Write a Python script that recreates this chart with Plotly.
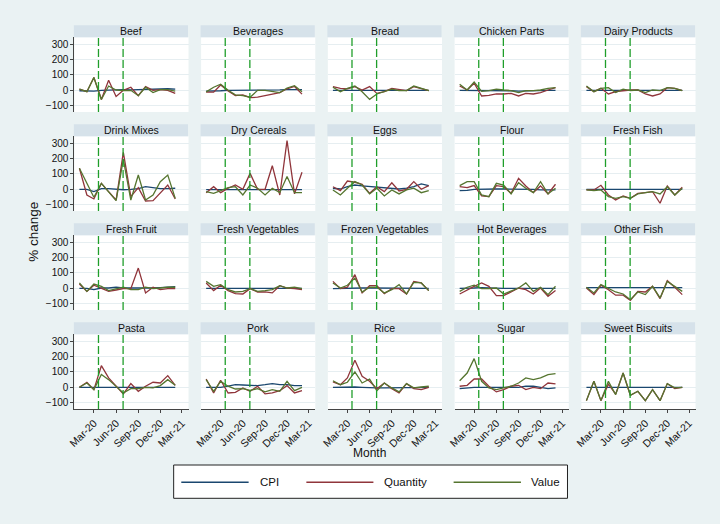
import plotly.graph_objects as go
import pandas as pd

# ---------------- data ----------------
months = pd.date_range("2020-01-01", periods=14, freq="MS")
categories = ["Beef", "Beverages", "Bread", "Chicken Parts", "Dairy Products",
              "Drink Mixes", "Dry Cereals", "Eggs", "Flour", "Fresh Fish",
              "Fresh Fruit", "Fresh Vegetables", "Frozen Vegetables", "Hot Beverages", "Other Fish",
              "Pasta", "Pork", "Rice", "Sugar", "Sweet Biscuits"]
x_tick_dates = ["2020-03-01", "2020-06-01", "2020-09-01", "2020-12-01", "2021-03-01"]
x_tick_labels = ["Mar-20", "Jun-20", "Sep-20", "Dec-20", "Mar-21"]
y_ticks = [-100, 0, 100, 200, 300]
event_dates = ["2020-03-20", "2020-06-30"]

beef_cpi = [-3, -5, -5, 0, 3, 5, 5, 3, 5, 5, 8, 10, 10, 8]
beef_qty = [7, -9, 83, -60, 65, -40, 0, 20, -35, 25, 0, 5, 0, -20]
beef_val = [7, -9, 83, -60, 28, 2, -2, 0, -35, 20, -15, 5, 5, -5]

beverages_cpi = [-5, -5, -3, 0, 0, 0, 0, 0, 2, 3, 3, 5, 5, 5]
beverages_qty = [-12, -12, 35, -5, -35, -30, -48, -45, -35, -25, -15, 10, 25, -25]
beverages_val = [-10, 20, 40, 0, -30, -35, -45, 0, 0, -5, -15, 15, 30, -10]

bread_cpi = [0, 0, 0, 0, 2, 3, 3, 2, 2, 0, 0, 0, 0, 0]
bread_qty = [24, 13, 9, 24, 2, 24, -20, -9, 13, 7, -2, 24, 13, -2]
bread_val = [20, -9, 13, 28, -9, -59, -24, -9, 7, -2, -2, 28, 13, -2]

chicken_cpi = [0, 0, 0, -2, -2, -2, -3, -3, -5, -3, -2, 0, 0, 0]
chicken_qty = [28, 2, 46, -37, -33, -24, -24, -20, -37, -20, -24, -15, 2, 17]
chicken_val = [39, 2, 54, -7, -2, 7, 2, -2, -15, -2, -2, 2, 13, 17]

dairy_cpi = [0, 0, 0, 0, 2, 2, 0, 0, -2, -2, 0, 0, 0, 0]
dairy_qty = [24, -9, 13, -24, -9, -2, 2, 2, -24, -37, -24, 17, 13, -2]
dairy_val = [28, -9, 13, 17, -15, 7, -2, 2, -15, 2, -2, 17, 13, -2]

drinkmix_cpi = [0, 0, -15, 5, 5, 0, -3, 0, 5, 17, 11, 5, 5, 7]
drinkmix_qty = [137, -37, -63, 39, -15, -70, 241, -48, 11, -76, -74, -24, 28, -63]
drinkmix_val = [137, 39, -52, 39, -15, -74, 195, -70, 93, -70, -37, 50, 93, -59]

cereal_cpi = [-2, -2, -2, -2, 0, 0, 0, 0, 0, 0, -2, -2, -2, -2]
cereal_qty = [-22, 17, -22, 7, 28, 0, 104, 0, 0, 154, -37, 317, -30, 111]
cereal_val = [-15, -26, -9, 11, 17, -37, 28, 7, -37, 7, -22, 83, -22, -22]

eggs_cpi = [7, 2, 17, 28, 22, 17, 13, 7, 2, 2, 7, 17, 35, 24]
eggs_qty = [17, -9, 54, 46, 33, -26, 17, -15, 43, -11, 0, 50, 0, 24]
eggs_val = [-4, -37, 7, 50, 28, -30, 7, -43, -4, -30, -4, 7, -22, -9]

flour_cpi = [-9, -7, 0, 2, 2, 2, 2, 2, 2, 0, 0, -4, -4, -4]
flour_qty = [17, 11, 24, -43, -48, 24, 17, -26, 72, 22, -22, 22, -30, 33]
flour_val = [24, 50, 50, -37, -48, 39, 28, -30, 43, 7, -22, 50, -30, 7]

freshfish_cpi = [0, 0, 0, 0, 0, 0, -2, -2, -4, -4, -4, -4, -2, 0]
freshfish_qty = [-4, -4, 26, -37, -70, -43, -59, -26, -22, -15, -91, 22, -37, 13]
freshfish_val = [-4, -9, -4, -48, -59, -48, -59, -30, -22, -15, -30, 17, -37, 7]

fruit_cpi = [0, 0, -9, 2, 2, 7, 2, 2, 2, 0, 2, 5, 7, 11]
fruit_qty = [28, -20, 20, 2, -20, -11, -2, -2, 132, -30, 7, -9, -2, -2]
fruit_val = [35, -20, 28, 13, -15, -2, 7, -9, -9, 7, -2, 2, 7, 7]

veg_cpi = [0, 0, 0, 2, 2, 2, 2, 2, 2, 0, 0, 0, 0, 0]
veg_qty = [35, -15, 20, -15, -35, -37, -2, -24, -24, -30, 17, 2, -2, -9]
veg_val = [45, 13, 24, -9, -24, -20, -2, -20, -15, -9, 17, 2, 7, -2]

frozveg_cpi = [-2, 0, 0, 2, 2, 2, 2, 0, 0, 0, 0, 0, 0, 0]
frozveg_qty = [45, -2, 7, 89, -30, 17, 17, -35, -2, -2, -37, 45, 35, -15]
frozveg_val = [35, 2, 20, 67, -24, 7, 7, -30, -9, 24, -37, 39, 35, -15]

hotbev_cpi = [0, 0, 2, 5, 2, 0, 0, 0, 0, 0, 0, 0, 0, 0]
hotbev_qty = [-37, -9, 13, 35, 13, -48, -48, -24, 2, -9, -37, 2, -52, -15]
hotbev_val = [-20, 7, 20, -2, -2, 2, -37, -20, 2, 35, -20, 7, -41, 13]

otherfish_cpi = [5, 5, 5, 3, 3, 3, 2, 2, 2, 2, 2, 2, 3, 5]
otherfish_qty = [2, -41, 20, -9, -45, -45, -78, -20, -24, 13, -67, 50, 7, -41]
otherfish_val = [7, -30, 24, 2, -24, -37, -74, -24, -41, 13, -63, 45, 13, -20]

pasta_cpi = [0, 0, 0, -2, -2, -2, 0, 0, 0, 0, 0, 0, 0, 0]
pasta_qty = [0, 33, -15, 141, 61, 7, -43, 24, -26, 7, 33, 28, 76, 13]
pasta_val = [0, 28, -15, 83, 50, 7, -37, -9, -9, 0, -4, 11, 50, 13]

pork_cpi = [0, 0, 0, 7, 17, 15, 11, 11, 17, 24, 17, 17, 11, 11]
pork_qty = [54, -37, 46, -37, -33, -4, -26, 7, -43, -37, -22, 11, -37, -22]
pork_val = [50, -26, 39, 7, -11, -9, -20, -9, -30, -15, -26, 39, -22, 0]

rice_cpi = [0, 2, 2, 2, 0, -4, -4, -4, -2, -2, -2, -2, -2, 0]
rice_qty = [35, 17, 61, 176, 72, 39, -9, 28, -9, -37, 24, -9, -15, 0]
rice_val = [43, 17, 33, 100, 28, 54, -22, 28, -4, -30, 24, -4, 2, 7]

sugar_cpi = [-9, -4, 0, 0, 0, 0, -4, 0, 0, 7, 7, 0, -9, -4]
sugar_qty = [7, 13, 54, 54, 7, -30, -15, 7, 13, -15, 0, -9, 28, 22]
sugar_val = [43, 93, 187, 39, -4, -15, -4, 7, 28, 61, 50, 61, 83, 89]

biscuit_cpi = [0, 0, 0, 0, 0, 0, 0, -2, -2, 0, 2, 2, 0, 0]
biscuit_qty = [-87, 39, -87, 20, -45, 93, -52, -26, -87, -15, -87, 24, -9, 0]
biscuit_val = [-87, 39, -87, 39, -48, 93, -52, -26, -87, -15, -87, 24, -4, 0]

series_names = ["CPI", "Quantity", "Value"]
table = [
    (beef_cpi, beef_qty, beef_val), (beverages_cpi, beverages_qty, beverages_val),
    (bread_cpi, bread_qty, bread_val), (chicken_cpi, chicken_qty, chicken_val),
    (dairy_cpi, dairy_qty, dairy_val), (drinkmix_cpi, drinkmix_qty, drinkmix_val),
    (cereal_cpi, cereal_qty, cereal_val), (eggs_cpi, eggs_qty, eggs_val),
    (flour_cpi, flour_qty, flour_val), (freshfish_cpi, freshfish_qty, freshfish_val),
    (fruit_cpi, fruit_qty, fruit_val), (veg_cpi, veg_qty, veg_val),
    (frozveg_cpi, frozveg_qty, frozveg_val), (hotbev_cpi, hotbev_qty, hotbev_val),
    (otherfish_cpi, otherfish_qty, otherfish_val), (pasta_cpi, pasta_qty, pasta_val),
    (pork_cpi, pork_qty, pork_val), (rice_cpi, rice_qty, rice_val),
    (sugar_cpi, sugar_qty, sugar_val), (biscuit_cpi, biscuit_qty, biscuit_val),
]

# ---------------- styling ----------------
W, H = 720, 524
colors = ["#1a476f", "#90353b", "#55752f"]
bg = "#eaf2f3"
header_fill = "#d6e2ea"
grid_col = "#e6eef1"
axis_col = "#444444"
vline_col = "#1f9e2a"
FONT = "Liberation Sans, Arial, sans-serif"

col_left = 68
col_pitch = 128
col_w = 115.3
row_top = 37.3
row_pitch = 99
plot_h = 74.7
head_h = 12

def px(x):
    return x / W

def py(y):
    return 1 - y / H

fig = go.Figure()
layout = {}
shapes = []
annotations = []

for i, cat in enumerate(categories):
    r, c = divmod(i, 5)
    n = i + 1
    xs = "" if n == 1 else str(n)
    x0 = col_left + col_pitch * c
    x1 = x0 + col_w
    top = row_top + row_pitch * r
    bot = top + plot_h
    for s, (vals, name) in enumerate(zip(table[i], series_names)):
        fig.add_trace(go.Scatter(
            x=months, y=vals, mode="lines", name=name,
            line=dict(color=colors[s], width=1.3),
            xaxis="x" + xs, yaxis="y" + xs, showlegend=False, hoverinfo="skip"))
    bottom_row = (r == 3)
    left_col = (c == 0)
    layout["xaxis" + xs] = dict(
        domain=[px(x0), px(x1)], anchor="y" + xs, type="date",
        range=["2019-12-11", "2021-03-28"],
        tickmode="array", tickvals=x_tick_dates, ticktext=x_tick_labels,
        showticklabels=bottom_row, ticks="outside" if bottom_row else "",
        ticklen=3, tickcolor=axis_col, tickangle=-45,
        tickfont=dict(family=FONT, size=10.5, color="#111111"),
        showline=bottom_row, linecolor=axis_col, linewidth=1,
        showgrid=False, zeroline=False, fixedrange=True)
    layout["yaxis" + xs] = dict(
        domain=[py(bot), py(top)], anchor="x" + xs,
        range=[-141.5, 345.7], tickmode="array", tickvals=y_ticks,
        showticklabels=left_col, ticks="outside" if left_col else "",
        ticklen=3, tickcolor=axis_col,
        tickfont=dict(family=FONT, size=10, color="#111111"),
        showline=left_col, linecolor=axis_col, linewidth=1,
        showgrid=True, gridcolor=grid_col, gridwidth=1,
        zeroline=False, fixedrange=True)
    # panel header
    shapes.append(dict(type="rect", xref="paper", yref="paper",
                       x0=px(x0 - 0.5), x1=px(x1 - 0.5), y0=py(top), y1=py(top - head_h),
                       fillcolor=header_fill, line=dict(width=0), layer="below"))
    annotations.append(dict(text=cat, xref="paper", yref="paper",
                            x=px((x0 + x1) / 2), y=py(top - head_h / 2),
                            xanchor="center", yanchor="middle", showarrow=False,
                            font=dict(family=FONT, size=10.5, color="#111111")))
    # event lines
    for d in event_dates:
        shapes.append(dict(type="line", xref="x" + xs, yref="y" + xs + " domain",
                           x0=d, x1=d, y0=0, y1=1,
                           line=dict(color=vline_col, width=1.3, dash="8px,3px")))

# axis titles
annotations.append(dict(text="% change", xref="paper", yref="paper",
                        x=px(26), y=py(232), textangle=-90,
                        xanchor="center", yanchor="middle", showarrow=False,
                        font=dict(family=FONT, size=13.5, color="#111111")))
annotations.append(dict(text="Month", xref="paper", yref="paper",
                        x=px(366), y=py(452.5),
                        xanchor="center", yanchor="middle", showarrow=False,
                        font=dict(family=FONT, size=12, color="#111111")))

# legend box
shapes.append(dict(type="rect", xref="paper", yref="paper",
                   x0=px(168.3), x1=px(566), y0=py(498.3), y1=py(465),
                   fillcolor="white", line=dict(color="#222222", width=1)))
leg_items = [(176, 244, 253), (302.3, 370, 379), (451, 519, 527)]
for (lx0, lx1, tx), name, col in zip(leg_items, series_names, colors):
    shapes.append(dict(type="line", xref="paper", yref="paper",
                       x0=px(lx0), x1=px(lx1), y0=py(482.3), y1=py(482.3),
                       line=dict(color=col, width=1.5)))
    annotations.append(dict(text=name, xref="paper", yref="paper",
                            x=px(tx), y=py(482.3), xanchor="left", yanchor="middle",
                            showarrow=False,
                            font=dict(family=FONT, size=11.5, color="#111111")))

fig.update_layout(
    width=W, height=H, margin=dict(l=0, r=0, t=0, b=0),
    paper_bgcolor=bg, plot_bgcolor="white",
    showlegend=False, shapes=shapes, annotations=annotations,
    **layout)

fig.write_html("out.html")
